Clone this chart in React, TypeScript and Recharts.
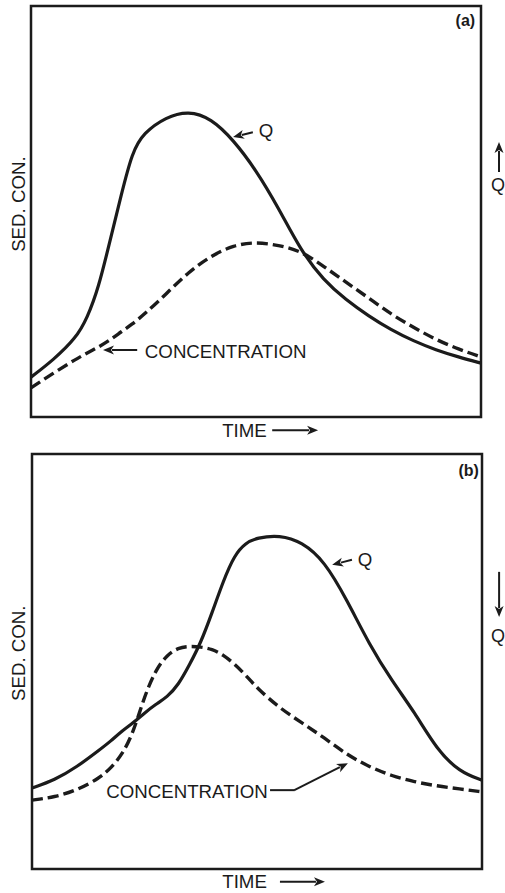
import React from "react";
import { LineChart, Line, XAxis, YAxis, ReferenceArea, ReferenceLine, ReferenceDot } from "recharts";

// panel (a): concentration peak lags behind discharge
const timeA = [0, 5, 10, 12.5, 15, 17.5, 20, 22.5, 25, 30, 35, 40, 45, 50, 55, 60, 65, 70, 75, 80, 85, 90, 95, 100];
const qA = [9.7, 13.9, 19.2, 24.1, 31.4, 42.6, 53.8, 64.5, 69.1, 73.0, 74.5, 72.7, 67.4, 60.1, 50.9, 40.4, 33.3, 28.5, 24.6, 21.2, 18.5, 16.3, 14.6, 13.1];
const concA = [7.1, 10.7, 14.1, 15.6, 17.0, 18.7, 20.7, 22.6, 24.8, 29.9, 35.3, 39.2, 41.8, 42.6, 41.8, 40.4, 36.7, 32.8, 29.0, 25.0, 21.8, 18.8, 16.5, 14.6];

// panel (b): concentration peak leads discharge
const timeB = [0, 5, 10, 15, 17.5, 20, 22.5, 25, 27.5, 30, 32.5, 35, 37.5, 40, 42.5, 45, 47.5, 50, 55, 60, 65, 70, 75, 80, 85, 90, 95, 100];
const qB = [19.5, 21.4, 24.6, 28.7, 30.8, 33.3, 35.2, 37.6, 39.7, 41.4, 44.3, 49.2, 54.5, 61.7, 69.4, 75.7, 78.6, 79.8, 80.5, 78.8, 74.2, 64.8, 54.0, 45.3, 37.8, 28.7, 23.4, 21.4];
const concB = [16.6, 17.3, 19.0, 21.9, 24.3, 27.5, 32.8, 41.7, 48.0, 51.6, 53.3, 53.7, 53.5, 53.0, 51.6, 49.4, 46.7, 43.6, 38.8, 35.2, 31.6, 27.5, 24.6, 22.4, 21.0, 20.0, 19.3, 18.6];

const ink = "#1b1b1b";
const font = '"Liberation Sans", Arial, Helvetica, sans-serif';
const fs = 18.7;

const arrow = (head: boolean) => (p: any) => {
  const { x1, y1, x2, y2 } = p;
  const dx = x2 - x1;
  const dy = y2 - y1;
  const len = Math.sqrt(dx * dx + dy * dy) || 1;
  const ux = dx / len;
  const uy = dy / len;
  const hl = 11;
  const hw = 4.5;
  const bx = x2 - ux * hl;
  const by = y2 - uy * hl;
  return (
    <g>
      <line x1={x1} y1={y1} x2={head ? bx + ux * 2 : x2} y2={head ? by + uy * 2 : y2} stroke={ink} strokeWidth={2} />
      {head && (
        <polygon
          points={`${x2},${y2} ${bx - uy * hw},${by + ux * hw} ${bx + ux * 3},${by + uy * 3} ${bx + uy * hw},${by - ux * hw}`}
          fill={ink}
        />
      )}
    </g>
  );
};

const txt = (value: string, anchor: string, opts: any = {}) => (p: any) => (
  <text
    x={p.cx}
    y={p.cy}
    fill={ink}
    fontFamily={font}
    fontSize={opts.size || fs}
    fontWeight={opts.bold ? "bold" : "normal"}
    textAnchor={anchor}
    dominantBaseline="central"
    transform={opts.rotate ? `rotate(-90 ${p.cx} ${p.cy})` : undefined}
  >
    {value}
  </text>
);

function Panel({ data, width, height, margin, children }: any) {
  return (
    <LineChart width={width} height={height} data={data} margin={margin} style={{ display: "block" }}>
      <XAxis type="number" dataKey="t" domain={[0, 100]} hide />
      <YAxis type="number" domain={[0, 100]} hide />
      <ReferenceArea x1={0} x2={100} y1={0} y2={100} fill="none" fillOpacity={0} stroke={ink} strokeWidth={2.5} />
      <Line dataKey="q" type="basis" stroke={ink} strokeWidth={3.2} dot={false} isAnimationActive={false} />
      <Line dataKey="c" type="basis" stroke={ink} strokeWidth={3.4} strokeDasharray="11 5" dot={false} isAnimationActive={false} />
      {children}
    </LineChart>
  );
}

export default function App() {
  const dataA = timeA.map((t, i) => ({ t, q: qA[i], c: concA[i] }));
  const dataB = timeB.map((t, i) => ({ t, q: qB[i], c: concB[i] }));
  return (
    <div style={{ position: "absolute", top: 0, left: 0, width: 505, height: 893, background: "#fff", overflow: "hidden" }}>
      <Panel data={dataA} width={505} height={445} margin={{ top: 6, right: 24, bottom: 28, left: 31 }}>
        <ReferenceLine segment={[{ x: 49.3, y: 69.3 }, { x: 44.9, y: 68.1 }]} ifOverflow="visible" shape={arrow(true)} />
        <ReferenceDot x={50.6} y={69.8} r={0} ifOverflow="visible" shape={txt("Q", "start")} />
        <ReferenceLine segment={[{ x: 23.6, y: 16.3 }, { x: 16.0, y: 16.3 }]} ifOverflow="visible" shape={arrow(true)} />
        <ReferenceDot x={25.3} y={15.9} r={0} ifOverflow="visible" shape={txt("CONCENTRATION", "start")} />
        <ReferenceDot x={98.7} y={96.4} r={0} ifOverflow="visible" shape={txt("(a)", "end", { bold: true, size: 16 })} />
        <ReferenceDot x={-2.8} y={51.8} r={0} ifOverflow="visible" shape={txt("SED. CON.", "middle", { rotate: true })} />
        <ReferenceDot x={52.4} y={-3.2} r={0} ifOverflow="visible" shape={txt("TIME", "end")} />
        <ReferenceLine segment={[{ x: 53.6, y: -3.2 }, { x: 63.8, y: -3.2 }]} ifOverflow="visible" shape={arrow(true)} />
        <ReferenceLine segment={[{ x: 104, y: 59.6 }, { x: 104, y: 66.9 }]} ifOverflow="visible" shape={arrow(true)} />
        <ReferenceDot x={102.2} y={56.4} r={0} ifOverflow="visible" shape={txt("Q", "start", { size: 18 })} />
      </Panel>
      <Panel data={dataB} width={505} height={448} margin={{ top: 9, right: 23, bottom: 24, left: 32 }}>
        <ReferenceLine segment={[{ x: 71.1, y: 74.5 }, { x: 66.7, y: 73.3 }]} ifOverflow="visible" shape={arrow(true)} />
        <ReferenceDot x={72.4} y={74.5} r={0} ifOverflow="visible" shape={txt("Q", "start")} />
        <ReferenceDot x={52.4} y={18.6} r={0} ifOverflow="visible" shape={txt("CONCENTRATION", "end")} />
        <ReferenceLine segment={[{ x: 52.9, y: 19.0 }, { x: 58.4, y: 19.0 }]} ifOverflow="visible" shape={arrow(false)} />
        <ReferenceLine segment={[{ x: 58.3, y: 19.0 }, { x: 70.2, y: 25.5 }]} ifOverflow="visible" shape={arrow(true)} />
        <ReferenceDot x={99.3} y={96.0} r={0} ifOverflow="visible" shape={txt("(b)", "end", { bold: true, size: 16 })} />
        <ReferenceDot x={-3.0} y={52.0} r={0} ifOverflow="visible" shape={txt("SED. CON.", "middle", { rotate: true })} />
        <ReferenceDot x={52.2} y={-3.1} r={0} ifOverflow="visible" shape={txt("TIME", "end")} />
        <ReferenceLine segment={[{ x: 55.1, y: -3.1 }, { x: 65.1, y: -3.1 }]} ifOverflow="visible" shape={arrow(true)} />
        <ReferenceLine segment={[{ x: 103.8, y: 71.6 }, { x: 103.8, y: 60.7 }]} ifOverflow="visible" shape={arrow(true)} />
        <ReferenceDot x={102.0} y={56.1} r={0} ifOverflow="visible" shape={txt("Q", "start", { size: 18 })} />
      </Panel>
    </div>
  );
}
